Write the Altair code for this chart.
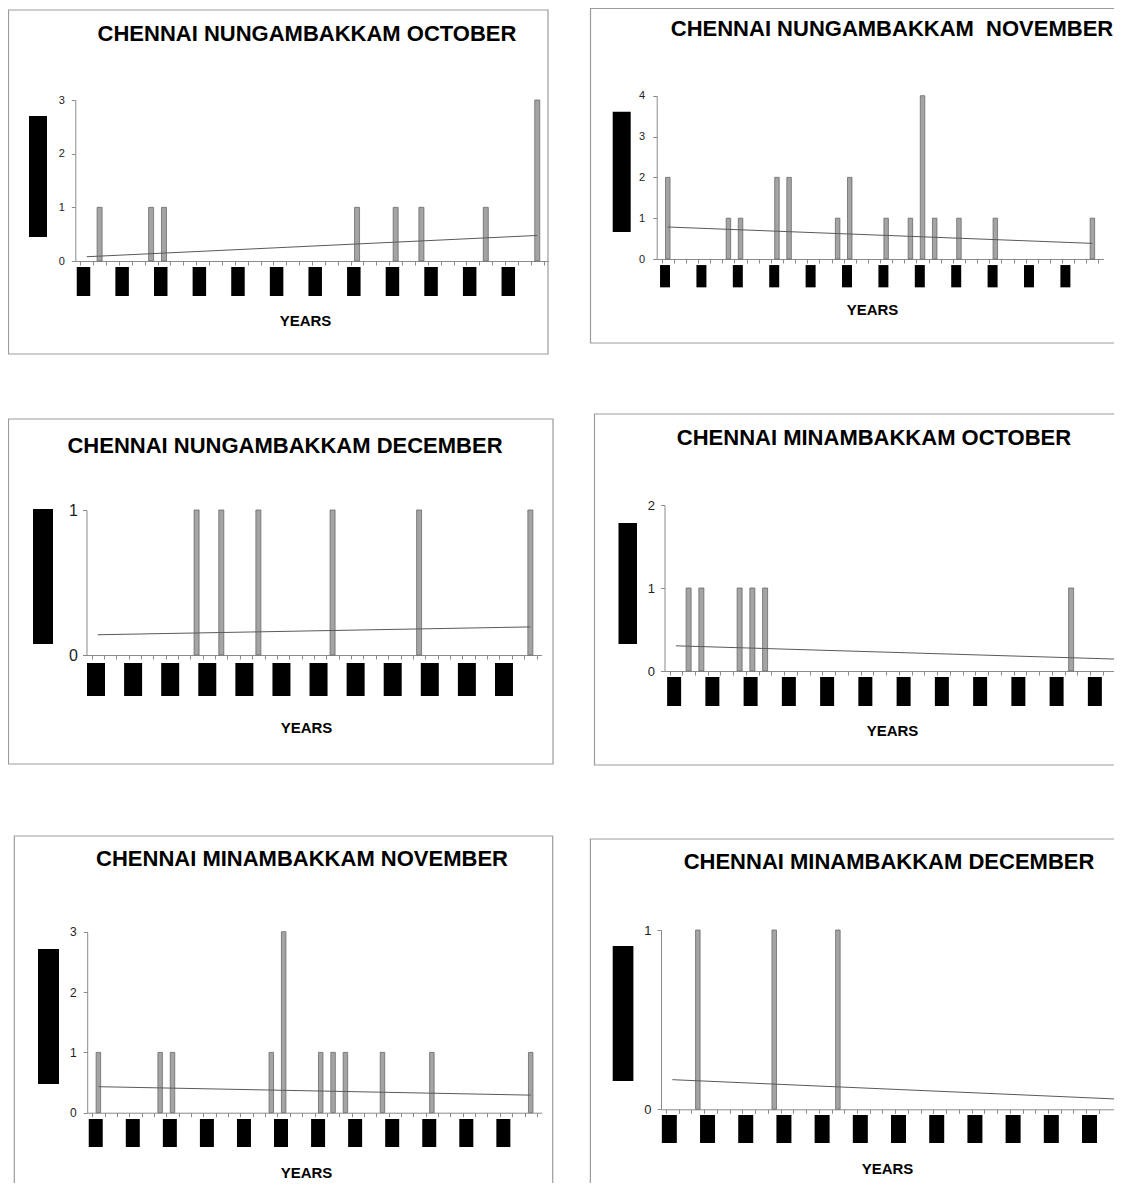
import altair as alt
import pandas as pd

# ---------------- data ----------------
YEAR_INDEX = list(range(1, 37))          # 36 (redacted) years, in order
LABEL_YEARS = list(range(1, 37, 3))      # years whose (redacted) label is shown

TITLES = [
    "CHENNAI NUNGAMBAKKAM OCTOBER",
    "CHENNAI NUNGAMBAKKAM\u00a0 NOVEMBER",
    "CHENNAI NUNGAMBAKKAM DECEMBER",
    "CHENNAI MINAMBAKKAM OCTOBER",
    "CHENNAI MINAMBAKKAM NOVEMBER",
    "CHENNAI MINAMBAKKAM DECEMBER",
]
X_TITLE = "YEARS"

nung_oct = [0, 1, 0, 0, 0, 1, 1, 0, 0, 0, 0, 0, 0, 0, 0, 0, 0, 0, 0, 0,
            0, 1, 0, 0, 1, 0, 1, 0, 0, 0, 0, 1, 0, 0, 0, 3]
nung_nov = [2, 0, 0, 0, 0, 1, 1, 0, 0, 2, 2, 0, 0, 0, 1, 2, 0, 0, 1, 0,
            1, 4, 1, 0, 1, 0, 0, 1, 0, 0, 0, 0, 0, 0, 0, 1]
nung_dec = [0, 0, 0, 0, 0, 0, 0, 0, 1, 0, 1, 0, 0, 1, 0, 0, 0, 0, 0, 1,
            0, 0, 0, 0, 0, 0, 1, 0, 0, 0, 0, 0, 0, 0, 0, 1]
mina_oct = [0, 1, 1, 0, 0, 1, 1, 1, 0, 0, 0, 0, 0, 0, 0, 0, 0, 0, 0, 0,
            0, 0, 0, 0, 0, 0, 0, 0, 0, 0, 0, 1, 0, 0, 0, 2]
mina_nov = [1, 0, 0, 0, 0, 1, 1, 0, 0, 0, 0, 0, 0, 0, 1, 3, 0, 0, 1, 1,
            1, 0, 0, 1, 0, 0, 0, 1, 0, 0, 0, 0, 0, 0, 0, 1]
mina_dec = [0, 0, 1, 0, 0, 0, 0, 0, 1, 0, 0, 0, 0, 1, 0, 0, 0, 0, 0, 0,
            0, 0, 0, 0, 0, 0, 0, 0, 0, 0, 0, 0, 0, 0, 0, 1]
SERIES = [nung_oct, nung_nov, nung_dec, mina_oct, mina_nov, mina_dec]
Y_MAX = [3, 4, 1, 2, 3, 1]
Y_TICKS = [[0, 1, 2, 3], [0, 1, 2, 3, 4], [0, 1], [0, 1, 2], [0, 1, 2, 3], [0, 1]]

# ---------------- layout (pixels inside each cell) ----------------
COL_W = [575, 531]
ROW_H = [392, 418, 365]
FONT = "Liberation Sans"

LAYOUT = [
    dict(border=(0.5, 2, 540, 346), tc=(299, 33), yrect=(21, 39, 108, 229),
         x0=67.3, catw=13.15, y0=253, ytop=92, box=(273.5, 29, 13.5, -3.3),
         xt=(297, 59), lfs=11, lpad=7, bw=5),
    dict(border=(7.5, 0.5, 560, 335), tc=(309, 27.5), yrect=(29.7, 47.7, 103.7, 224),
         x0=73.7, catw=12.41, y0=251, ytop=87.7, box=(268.2, 22.3, 10, -2.8),
         xt=(289, 50), lfs=11, lpad=8, bw=4.5),
    dict(border=(0.5, 19, 545, 364), tc=(277, 53), yrect=(25, 45, 109, 244),
         x0=78.5, catw=12.64, y0=255, ytop=110, box=(279.5, 33, 18, -1.7),
         xt=(298, 72), lfs=16, lpad=5, bw=5),
    dict(border=(11.5, 14, 560, 365), tc=(291, 45), yrect=(35.5, 54, 123, 244),
         x0=81.5, catw=13.04, y0=271, ytop=105, box=(291.5, 29, 14, -1.8),
         xt=(309, 59), lfs=13, lpad=6, bw=5),
    dict(border=(6.3, 18, 544.7, 400), tc=(294, 48), yrect=(30, 51, 131, 266),
         x0=79.2, catw=12.63, y0=294.7, ytop=113.7, box=(315, 28, 14, -2.7),
         xt=(298, 59.3), lfs=12, lpad=7, bw=4.5),
    dict(border=(7.4, 21, 560, 400), tc=(306, 51), yrect=(29.7, 50.4, 128, 263),
         x0=78.0, catw=13.02, y0=291.3, ytop=112, box=(311, 28, 15, -3.1),
         xt=(304, 58.7), lfs=13, lpad=6, bw=4.5),
]

AXIS_COLOR = "#8a8a8a"


def make_panel(title, counts, ymax, yticks, L, W, H):
    x0, catw = L["x0"], L["catw"]
    end_px = x0 + 36 * catw
    dom_end = 36.5
    if end_px > W:
        dom_end = 0.5 + (W - x0) / catw
        end_px = W
    tick_vals = [k + 0.5 for k in range(0, 37) if k + 0.5 <= dom_end + 1e-9]

    xscale = alt.Scale(domain=[0.5, dom_end], range=[x0, end_px], nice=False, zero=False)
    yscale = alt.Scale(domain=[0, ymax], range=[L["y0"], L["ytop"]], nice=False)

    xaxis = alt.Axis(values=tick_vals, labels=False, grid=False, tickSize=4,
                     tickColor=AXIS_COLOR, domainColor=AXIS_COLOR, orient="bottom",
                     offset=L["y0"] - H, title=X_TITLE, titleFont=FONT,
                     titleFontSize=15, titleFontWeight="bold", titleColor="black",
                     titleX=L["xt"][0], titleY=L["xt"][1], titleBaseline="middle",
                     titleAlign="center")
    yaxis = alt.Axis(values=yticks, grid=False, tickSize=4,
                     labelExpr="format(datum.value, 'd')",
                     tickColor=AXIS_COLOR, domainColor=AXIS_COLOR, orient="left",
                     offset=-x0, title=None, labelFont=FONT, labelFontSize=L["lfs"],
                     labelColor="#222", labelPadding=L["lpad"], labelOverlap=False,
                     labelBound=False, labelFlush=False)

    xenc = alt.X("year:Q", scale=xscale, axis=xaxis)
    yenc = alt.Y("count:Q", scale=yscale, axis=yaxis)

    df = pd.DataFrame({"year": YEAR_INDEX, "count": counts})
    one = pd.DataFrame({"t": [title]})
    labels_df = pd.DataFrame({"label_year": LABEL_YEARS})

    bx0, by0, bx1, by1 = L["border"]
    border = alt.Chart(one).mark_rect(fillOpacity=0, stroke="#9c9c9c",
                                      strokeWidth=1.2, clip=True).encode(
        x=alt.value(bx0), x2=alt.value(bx1), y=alt.value(by0), y2=alt.value(by1))

    rx0, rx1, ry0, ry1 = L["yrect"]
    yrect = alt.Chart(one).mark_rect(color="black").encode(
        x=alt.value(rx0), x2=alt.value(rx1), y=alt.value(ry0), y2=alt.value(ry1))

    cy, blen, bthick, boff = L["box"]
    shift = boff / catw
    xboxes = alt.Chart(labels_df).transform_calculate(
        year=f"datum.label_year + ({shift})").mark_tick(
        color="black", opacity=1, size=blen, thickness=bthick, clip=True).encode(
        x=xenc, y=alt.value(cy))

    bars = alt.Chart(df).transform_filter("datum.count > 0").mark_bar(
        orient="vertical", size=L["bw"], fill="#a4a4a4", stroke="#6a6a6a",
        strokeWidth=0.8, clip=True).encode(x=xenc, y=yenc)

    trend = alt.Chart(df).transform_regression("year", "count").mark_line(
        color="#5a5a5a", strokeWidth=1, clip=True).encode(x=xenc, y=yenc)

    ttl = alt.Chart(one).mark_text(font=FONT, fontSize=22, fontWeight="bold",
                                   color="black", align="center",
                                   baseline="alphabetic").encode(
        x=alt.value(L["tc"][0]), y=alt.value(L["tc"][1]), text="t:N")

    return alt.layer(border, yrect, xboxes, bars, trend, ttl).properties(width=W, height=H)


panels = []
for i in range(6):
    r, c = divmod(i, 2)
    panels.append(make_panel(TITLES[i], SERIES[i], Y_MAX[i], Y_TICKS[i], LAYOUT[i],
                             COL_W[c], ROW_H[r]))

rows = [alt.hconcat(panels[2 * r], panels[2 * r + 1], spacing=0) for r in range(3)]
chart = alt.vconcat(*rows, spacing=0).properties(
    padding=0, background="white").configure_view(stroke="transparent", strokeWidth=0)

chart.save("out.html", embed_options={"renderer": "svg", "actions": False})
